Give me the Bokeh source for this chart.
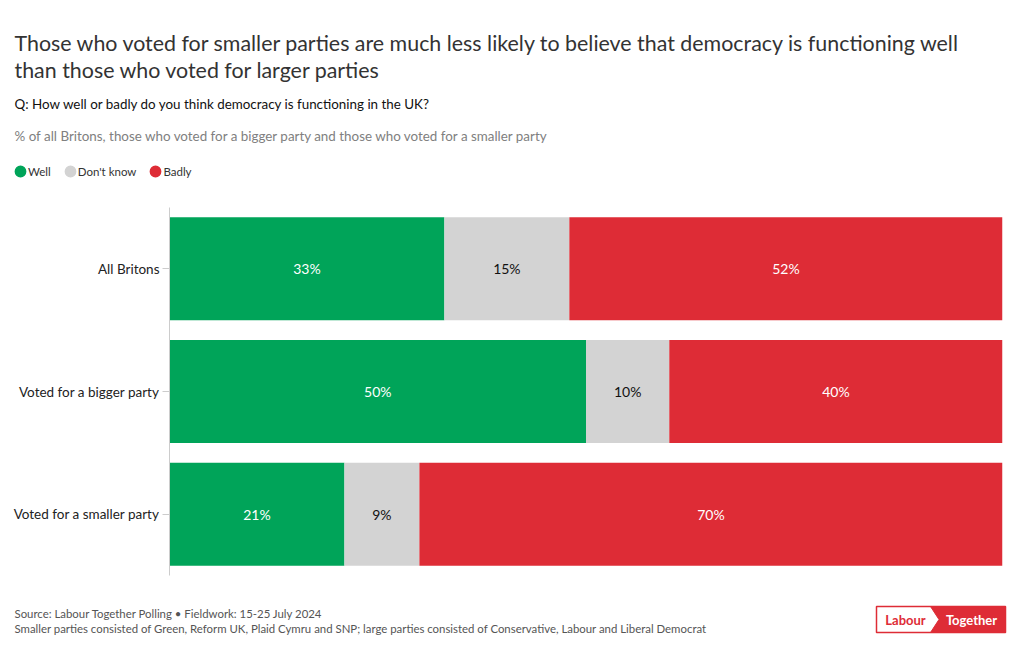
from bokeh.plotting import figure
from bokeh.models import FactorRange, Range1d, Legend, LegendItem, ColumnDataSource
from bokeh.core.properties import value
from bokeh.embed import file_html
from bokeh.resources import INLINE

categories = ["All Britons", "Voted for a bigger party", "Voted for a smaller party"]
well = [33, 50, 21]
dont_know = [15, 10, 9]
badly = [52, 40, 70]
series_names = ["Well", "Don't know", "Badly"]
colors = ["#00a459", "#d3d3d3", "#de2c36"]
text_colors = ["white", "#111111", "white"]

FONT = "Lato"
W = 1016
HEAD_H, MAIN_H, FOOT_H = 200, 390, 56


def blank(height, y0):
    f = figure(width=W, height=height, output_backend="svg", toolbar_location=None,
               x_range=Range1d(0, W), y_range=Range1d(y0 + height, y0),
               min_border=0, outline_line_color=None)
    f.axis.visible = False
    f.grid.visible = False
    return f


def txt(f, s, x, y, size, color, style="normal", align="left"):
    f.text(x=[x], y=[y], text=[s], text_font=value(FONT), text_font_size=size,
           text_color=color, text_baseline="middle", text_align=align,
           text_font_style=style)


# ---------- header ----------
head = blank(HEAD_H, 0)
txt(head, "Those who voted for smaller parties are much less likely to believe that democracy is functioning well",
    14, 42, "21.4px", "#333333")
txt(head, "than those who voted for larger parties", 14, 69, "21.4px", "#333333")
txt(head, "Q: How well or badly do you think democracy is functioning in the UK?", 14, 103, "13.4px", "#111111")
txt(head, "% of all Britons, those who voted for a bigger party and those who voted for a smaller party",
    14, 135, "13.4px", "#808080")

items = []
for name, c in zip(series_names, colors):
    r = head.scatter(x=[float("nan")], y=[float("nan")], marker="circle", size=12,
                     fill_color=c, line_color=c, line_width=6.2)
    items.append(LegendItem(label=name, renderers=[r]))
legend = Legend(items=items, orientation="horizontal", location=(13, 22),
                label_text_font=FONT, label_text_font_size="11.5px",
                label_text_color="#333333", glyph_width=14, glyph_height=14,
                label_standoff=1, spacing=12, padding=0, margin=0,
                border_line_color=None, background_fill_alpha=0)
head.add_layout(legend, "center")

# ---------- main chart ----------
FL, FR, FT, FB = 169, 1002, 207, 575
p = figure(width=W, height=MAIN_H, output_backend="svg", toolbar_location=None,
           y_range=FactorRange(*categories[::-1], range_padding=0),
           x_range=Range1d(0, 100),
           min_border_left=FL, min_border_right=W - FR,
           min_border_top=FT - HEAD_H, min_border_bottom=HEAD_H + MAIN_H - FB,
           outline_line_color=None)

src = ColumnDataSource(dict(cat=categories, well=well, dk=dont_know, badly=badly))
p.hbar_stack(["well", "dk", "badly"], y="cat", height=0.84, color=colors,
             line_color=None, source=src)

rows = list(zip(well, dont_know, badly))
for i, (col, tc) in enumerate(zip([well, dont_know, badly], text_colors)):
    xs = [sum(r[:i]) + r[i] / 2 for r in rows]
    p.text(x=xs, y=categories, text=[f"{c}%" for c in col], text_color=tc,
           text_font=value(FONT), text_font_size="14px", text_align="center",
           text_baseline="middle")

p.xaxis.visible = False
p.grid.visible = False
yax = p.yaxis[0]
yax.axis_line_color = "#cccccc"
yax.major_tick_line_color = "#cccccc"
yax.major_tick_out = 7
yax.major_tick_in = 0
yax.minor_tick_line_color = None
yax.major_label_text_font = FONT
yax.major_label_text_font_size = "13.5px"
yax.major_label_text_color = "#222222"
yax.major_label_standoff = 3

# ---------- footer ----------
y0 = HEAD_H + MAIN_H
foot = blank(FOOT_H, y0)
txt(foot, "Source: Labour Together Polling \u2022 Fieldwork: 15-25 July 2024", 14, 613, "11.4px", "#555555")
txt(foot, "Smaller parties consisted of Green, Reform UK, Plaid Cymru and SNP; large parties consisted of Conservative, Labour and Liberal Democrat",
    14, 628, "11.4px", "#555555")
# logo
foot.quad(left=[876], right=[1005], top=[606], bottom=[632], fill_color="white",
          line_color="#de2c36", line_width=1.5)
foot.patch(x=[930, 1005, 1005, 930, 938.5], y=[606, 606, 632, 632, 619],
           fill_color="#de2c36", line_color="#de2c36")
txt(foot, "Labour", 905, 619, "13px", "#de2c36", style="bold", align="center")
txt(foot, "Together", 971, 619, "13px", "white", style="bold", align="center")

open("out.html", "w").write(file_html([head, p, foot], INLINE))
